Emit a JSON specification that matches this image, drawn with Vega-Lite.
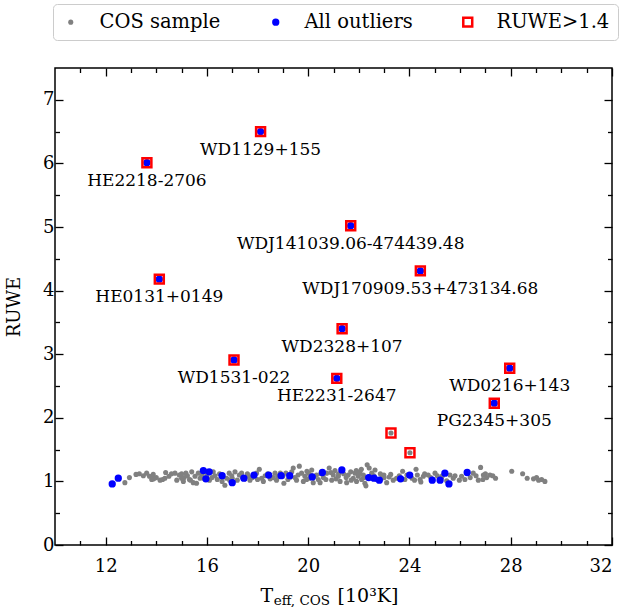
{
  "$schema": "https://vega.github.io/schema/vega-lite/v6.json",
  "width": 557,
  "height": 477,
  "autosize": {"type": "none"},
  "padding": {"left": 55, "top": 68, "right": 14, "bottom": 62},
  "background": "white",
  "datasets": {
    "pts": [
      {"teff":12.76,"ruwe":0.98,"kind":"COS sample"},{"teff":12.94,"ruwe":1.06,"kind":"COS sample"},{"teff":13.20,"ruwe":1.11,"kind":"COS sample"},{"teff":13.33,"ruwe":1.12,"kind":"COS sample"},{"teff":13.49,"ruwe":1.09,"kind":"COS sample"},{"teff":13.62,"ruwe":1.13,"kind":"COS sample"},{"teff":13.73,"ruwe":1.08,"kind":"COS sample"},{"teff":13.82,"ruwe":1.03,"kind":"COS sample"},{"teff":13.88,"ruwe":1.11,"kind":"COS sample"},{"teff":14.15,"ruwe":1.02,"kind":"COS sample"},{"teff":14.25,"ruwe":1.03,"kind":"COS sample"},{"teff":14.37,"ruwe":1.14,"kind":"COS sample"},{"teff":14.34,"ruwe":1.05,"kind":"COS sample"},{"teff":14.74,"ruwe":1.13,"kind":"COS sample"},{"teff":14.81,"ruwe":1.02,"kind":"COS sample"},{"teff":14.91,"ruwe":1.10,"kind":"COS sample"},{"teff":15.00,"ruwe":1.05,"kind":"COS sample"},{"teff":15.07,"ruwe":1.00,"kind":"COS sample"},{"teff":15.17,"ruwe":1.13,"kind":"COS sample"},{"teff":15.23,"ruwe":1.09,"kind":"COS sample"},{"teff":15.31,"ruwe":1.03,"kind":"COS sample"},{"teff":15.40,"ruwe":1.15,"kind":"COS sample"},{"teff":15.46,"ruwe":0.98,"kind":"COS sample"},{"teff":15.53,"ruwe":1.08,"kind":"COS sample"},{"teff":15.59,"ruwe":0.97,"kind":"COS sample"},{"teff":15.66,"ruwe":1.13,"kind":"COS sample"},{"teff":15.73,"ruwe":1.05,"kind":"COS sample"},{"teff":16.25,"ruwe":1.15,"kind":"COS sample"},{"teff":16.32,"ruwe":1.09,"kind":"COS sample"},{"teff":16.41,"ruwe":1.03,"kind":"COS sample"},{"teff":16.71,"ruwe":0.94,"kind":"COS sample"},{"teff":16.78,"ruwe":1.05,"kind":"COS sample"},{"teff":16.88,"ruwe":1.13,"kind":"COS sample"},{"teff":16.98,"ruwe":1.09,"kind":"COS sample"},{"teff":17.11,"ruwe":1.15,"kind":"COS sample"},{"teff":17.20,"ruwe":1.02,"kind":"COS sample"},{"teff":17.28,"ruwe":1.10,"kind":"COS sample"},{"teff":17.37,"ruwe":1.13,"kind":"COS sample"},{"teff":17.64,"ruwe":1.08,"kind":"COS sample"},{"teff":17.70,"ruwe":1.02,"kind":"COS sample"},{"teff":17.96,"ruwe":1.13,"kind":"COS sample"},{"teff":18.07,"ruwe":1.19,"kind":"COS sample"},{"teff":18.16,"ruwe":1.05,"kind":"COS sample"},{"teff":18.23,"ruwe":1.00,"kind":"COS sample"},{"teff":18.62,"ruwe":1.06,"kind":"COS sample"},{"teff":18.69,"ruwe":1.13,"kind":"COS sample"},{"teff":18.75,"ruwe":1.02,"kind":"COS sample"},{"teff":19.04,"ruwe":0.97,"kind":"COS sample"},{"teff":19.12,"ruwe":1.13,"kind":"COS sample"},{"teff":19.35,"ruwe":1.15,"kind":"COS sample"},{"teff":19.41,"ruwe":1.21,"kind":"COS sample"},{"teff":19.48,"ruwe":1.06,"kind":"COS sample"},{"teff":19.54,"ruwe":1.02,"kind":"COS sample"},{"teff":19.65,"ruwe":1.24,"kind":"COS sample"},{"teff":19.74,"ruwe":1.13,"kind":"COS sample"},{"teff":19.81,"ruwe":1.00,"kind":"COS sample"},{"teff":19.87,"ruwe":1.08,"kind":"COS sample"},{"teff":19.94,"ruwe":1.03,"kind":"COS sample"},{"teff":20.01,"ruwe":1.13,"kind":"COS sample"},{"teff":20.14,"ruwe":1.18,"kind":"COS sample"},{"teff":20.20,"ruwe":0.98,"kind":"COS sample"},{"teff":20.33,"ruwe":1.10,"kind":"COS sample"},{"teff":20.40,"ruwe":1.03,"kind":"COS sample"},{"teff":20.47,"ruwe":0.98,"kind":"COS sample"},{"teff":20.60,"ruwe":1.06,"kind":"COS sample"},{"teff":20.73,"ruwe":1.13,"kind":"COS sample"},{"teff":20.83,"ruwe":1.21,"kind":"COS sample"},{"teff":20.93,"ruwe":1.02,"kind":"COS sample"},{"teff":20.99,"ruwe":1.10,"kind":"COS sample"},{"teff":21.06,"ruwe":1.17,"kind":"COS sample"},{"teff":21.19,"ruwe":1.08,"kind":"COS sample"},{"teff":21.26,"ruwe":1.00,"kind":"COS sample"},{"teff":21.52,"ruwe":0.98,"kind":"COS sample"},{"teff":21.58,"ruwe":1.10,"kind":"COS sample"},{"teff":21.68,"ruwe":1.15,"kind":"COS sample"},{"teff":21.78,"ruwe":1.05,"kind":"COS sample"},{"teff":21.85,"ruwe":1.13,"kind":"COS sample"},{"teff":21.91,"ruwe":1.00,"kind":"COS sample"},{"teff":21.98,"ruwe":1.08,"kind":"COS sample"},{"teff":22.05,"ruwe":1.15,"kind":"COS sample"},{"teff":22.11,"ruwe":1.03,"kind":"COS sample"},{"teff":22.18,"ruwe":1.10,"kind":"COS sample"},{"teff":22.24,"ruwe":0.97,"kind":"COS sample"},{"teff":22.28,"ruwe":0.93,"kind":"COS sample"},{"teff":22.33,"ruwe":1.26,"kind":"COS sample"},{"teff":22.41,"ruwe":1.21,"kind":"COS sample"},{"teff":22.51,"ruwe":1.13,"kind":"COS sample"},{"teff":22.64,"ruwe":1.18,"kind":"COS sample"},{"teff":22.90,"ruwe":1.05,"kind":"COS sample"},{"teff":22.99,"ruwe":1.10,"kind":"COS sample"},{"teff":23.26,"ruwe":1.11,"kind":"COS sample"},{"teff":23.36,"ruwe":1.02,"kind":"COS sample"},{"teff":23.49,"ruwe":1.05,"kind":"COS sample"},{"teff":23.73,"ruwe":1.16,"kind":"COS sample"},{"teff":23.82,"ruwe":1.03,"kind":"COS sample"},{"teff":24.26,"ruwe":1.19,"kind":"COS sample"},{"teff":24.31,"ruwe":1.10,"kind":"COS sample"},{"teff":24.42,"ruwe":1.03,"kind":"COS sample"},{"teff":24.55,"ruwe":1.08,"kind":"COS sample"},{"teff":24.74,"ruwe":1.10,"kind":"COS sample"},{"teff":24.84,"ruwe":1.06,"kind":"COS sample"},{"teff":25.01,"ruwe":1.13,"kind":"COS sample"},{"teff":25.10,"ruwe":1.09,"kind":"COS sample"},{"teff":25.27,"ruwe":1.06,"kind":"COS sample"},{"teff":25.47,"ruwe":1.01,"kind":"COS sample"},{"teff":25.73,"ruwe":1.05,"kind":"COS sample"},{"teff":25.97,"ruwe":1.02,"kind":"COS sample"},{"teff":26.06,"ruwe":1.08,"kind":"COS sample"},{"teff":26.19,"ruwe":1.03,"kind":"COS sample"},{"teff":26.52,"ruwe":1.13,"kind":"COS sample"},{"teff":26.63,"ruwe":1.09,"kind":"COS sample"},{"teff":26.72,"ruwe":1.02,"kind":"COS sample"},{"teff":26.81,"ruwe":1.22,"kind":"COS sample"},{"teff":26.92,"ruwe":1.10,"kind":"COS sample"},{"teff":27.05,"ruwe":1.06,"kind":"COS sample"},{"teff":27.18,"ruwe":1.10,"kind":"COS sample"},{"teff":27.29,"ruwe":1.09,"kind":"COS sample"},{"teff":28.04,"ruwe":1.16,"kind":"COS sample"},{"teff":28.47,"ruwe":1.12,"kind":"COS sample"},{"teff":28.65,"ruwe":1.05,"kind":"COS sample"},{"teff":29.02,"ruwe":1.06,"kind":"COS sample"},{"teff":29.22,"ruwe":1.03,"kind":"COS sample"},{"teff":29.35,"ruwe":1.00,"kind":"COS sample"},
      {"teff":15.10,"ruwe":1.06,"kind":"COS sample"},{"teff":15.35,"ruwe":1.02,"kind":"COS sample"},{"teff":15.80,"ruwe":1.10,"kind":"COS sample"},{"teff":16.50,"ruwe":1.12,"kind":"COS sample"},{"teff":16.60,"ruwe":1.00,"kind":"COS sample"},{"teff":17.50,"ruwe":1.04,"kind":"COS sample"},{"teff":17.80,"ruwe":1.06,"kind":"COS sample"},{"teff":18.30,"ruwe":1.09,"kind":"COS sample"},{"teff":18.50,"ruwe":1.04,"kind":"COS sample"},{"teff":19.00,"ruwe":1.08,"kind":"COS sample"},{"teff":19.20,"ruwe":1.03,"kind":"COS sample"},{"teff":19.60,"ruwe":1.10,"kind":"COS sample"},{"teff":20.05,"ruwe":1.05,"kind":"COS sample"},{"teff":20.25,"ruwe":1.08,"kind":"COS sample"},{"teff":20.50,"ruwe":1.12,"kind":"COS sample"},{"teff":20.70,"ruwe":1.03,"kind":"COS sample"},{"teff":21.10,"ruwe":1.04,"kind":"COS sample"},{"teff":21.40,"ruwe":1.12,"kind":"COS sample"},{"teff":21.70,"ruwe":1.02,"kind":"COS sample"},{"teff":22.00,"ruwe":1.12,"kind":"COS sample"},{"teff":22.20,"ruwe":1.06,"kind":"COS sample"},{"teff":22.45,"ruwe":1.08,"kind":"COS sample"},{"teff":22.70,"ruwe":1.03,"kind":"COS sample"},{"teff":23.00,"ruwe":1.06,"kind":"COS sample"},{"teff":23.60,"ruwe":1.09,"kind":"COS sample"},{"teff":24.10,"ruwe":1.05,"kind":"COS sample"},{"teff":24.60,"ruwe":1.12,"kind":"COS sample"},{"teff":25.30,"ruwe":1.09,"kind":"COS sample"},{"teff":25.60,"ruwe":1.10,"kind":"COS sample"},{"teff":14.50,"ruwe":1.08,"kind":"COS sample"},{"teff":14.00,"ruwe":1.06,"kind":"COS sample"},{"teff":13.90,"ruwe":1.04,"kind":"COS sample"},{"teff":18.90,"ruwe":1.13,"kind":"COS sample"},{"teff":19.95,"ruwe":1.16,"kind":"COS sample"},{"teff":21.90,"ruwe":1.17,"kind":"COS sample"},{"teff":16.10,"ruwe":1.02,"kind":"COS sample"},{"teff":17.00,"ruwe":1.05,"kind":"COS sample"},{"teff":22.85,"ruwe":1.12,"kind":"COS sample"},{"teff":23.10,"ruwe":0.98,"kind":"COS sample"},{"teff":24.45,"ruwe":0.99,"kind":"COS sample"},
      {"teff":14.6,"ruwe":1.12,"kind":"COS sample"},{"teff":15.0,"ruwe":1.12,"kind":"COS sample"},{"teff":15.9,"ruwe":1.04,"kind":"COS sample"},{"teff":16.0,"ruwe":1.10,"kind":"COS sample"},{"teff":16.2,"ruwe":1.06,"kind":"COS sample"},{"teff":16.9,"ruwe":1.02,"kind":"COS sample"},{"teff":17.4,"ruwe":1.07,"kind":"COS sample"},{"teff":17.6,"ruwe":1.12,"kind":"COS sample"},{"teff":18.0,"ruwe":1.03,"kind":"COS sample"},{"teff":18.4,"ruwe":1.12,"kind":"COS sample"},{"teff":18.8,"ruwe":1.08,"kind":"COS sample"},{"teff":19.3,"ruwe":1.07,"kind":"COS sample"},{"teff":20.1,"ruwe":1.10,"kind":"COS sample"},{"teff":20.9,"ruwe":1.14,"kind":"COS sample"},{"teff":21.2,"ruwe":1.12,"kind":"COS sample"},{"teff":21.5,"ruwe":1.06,"kind":"COS sample"},{"teff":22.1,"ruwe":1.19,"kind":"COS sample"},{"teff":22.6,"ruwe":1.09,"kind":"COS sample"},{"teff":23.2,"ruwe":1.07,"kind":"COS sample"},{"teff":23.9,"ruwe":1.10,"kind":"COS sample"},{"teff":24.2,"ruwe":1.02,"kind":"COS sample"},{"teff":25.8,"ruwe":1.09,"kind":"COS sample"},{"teff":26.4,"ruwe":1.06,"kind":"COS sample"},{"teff":26.9,"ruwe":1.03,"kind":"COS sample"},{"teff":27.4,"ruwe":1.05,"kind":"COS sample"},{"teff":27.0,"ruwe":1.12,"kind":"COS sample"},{"teff":28.9,"ruwe":1.04,"kind":"COS sample"},{"teff":29.1,"ruwe":1.02,"kind":"COS sample"},
      {"teff":23.27,"ruwe":1.76,"kind":"COS sample"},{"teff":24.02,"ruwe":1.45,"kind":"COS sample"},
      {"teff":12.26,"ruwe":0.96,"kind":"All outliers"},{"teff":12.50,"ruwe":1.05,"kind":"All outliers"},{"teff":15.86,"ruwe":1.17,"kind":"All outliers"},{"teff":16.09,"ruwe":1.15,"kind":"All outliers"},{"teff":15.96,"ruwe":1.04,"kind":"All outliers"},{"teff":16.60,"ruwe":1.09,"kind":"All outliers"},{"teff":17.00,"ruwe":0.98,"kind":"All outliers"},{"teff":17.46,"ruwe":1.05,"kind":"All outliers"},{"teff":17.86,"ruwe":1.10,"kind":"All outliers"},{"teff":18.44,"ruwe":1.10,"kind":"All outliers"},{"teff":18.93,"ruwe":1.09,"kind":"All outliers"},{"teff":19.27,"ruwe":1.09,"kind":"All outliers"},{"teff":20.16,"ruwe":1.07,"kind":"All outliers"},{"teff":20.56,"ruwe":1.14,"kind":"All outliers"},{"teff":21.33,"ruwe":1.18,"kind":"All outliers"},{"teff":22.39,"ruwe":1.06,"kind":"All outliers"},{"teff":22.60,"ruwe":1.05,"kind":"All outliers"},{"teff":22.81,"ruwe":1.02,"kind":"All outliers"},{"teff":23.65,"ruwe":1.04,"kind":"All outliers"},{"teff":24.01,"ruwe":1.10,"kind":"All outliers"},{"teff":24.90,"ruwe":1.02,"kind":"All outliers"},{"teff":25.21,"ruwe":1.02,"kind":"All outliers"},{"teff":25.40,"ruwe":1.13,"kind":"All outliers"},{"teff":25.56,"ruwe":0.96,"kind":"All outliers"},{"teff":26.28,"ruwe":1.14,"kind":"All outliers"},
      {"teff":13.63,"ruwe":6.01,"kind":"All outliers"},{"teff":18.12,"ruwe":6.50,"kind":"All outliers"},{"teff":21.68,"ruwe":5.02,"kind":"All outliers"},{"teff":24.43,"ruwe":4.31,"kind":"All outliers"},{"teff":14.12,"ruwe":4.18,"kind":"All outliers"},{"teff":21.34,"ruwe":3.40,"kind":"All outliers"},{"teff":17.07,"ruwe":2.91,"kind":"All outliers"},{"teff":21.13,"ruwe":2.62,"kind":"All outliers"},{"teff":27.96,"ruwe":2.78,"kind":"All outliers"},{"teff":27.35,"ruwe":2.23,"kind":"All outliers"},
      {"teff":13.63,"ruwe":6.01,"kind":"RUWE>1.4","name":"HE2218-2706"},{"teff":18.12,"ruwe":6.50,"kind":"RUWE>1.4","name":"WD1129+155"},{"teff":21.68,"ruwe":5.02,"kind":"RUWE>1.4","name":"WDJ141039.06-474439.48"},{"teff":24.43,"ruwe":4.31,"kind":"RUWE>1.4","name":"WDJ170909.53+473134.68"},{"teff":14.12,"ruwe":4.18,"kind":"RUWE>1.4","name":"HE0131+0149"},{"teff":21.34,"ruwe":3.40,"kind":"RUWE>1.4","name":"WD2328+107"},{"teff":17.07,"ruwe":2.91,"kind":"RUWE>1.4","name":"WD1531-022"},{"teff":21.13,"ruwe":2.62,"kind":"RUWE>1.4","name":"HE2231-2647"},{"teff":27.96,"ruwe":2.78,"kind":"RUWE>1.4","name":"WD0216+143"},{"teff":27.35,"ruwe":2.23,"kind":"RUWE>1.4","name":"PG2345+305"},
      {"teff":23.27,"ruwe":1.76,"kind":"RUWE>1.4"},{"teff":24.02,"ruwe":1.45,"kind":"RUWE>1.4"}
    ]
  },
  "data": {"name": "pts"},
  "layer": [
    {
      "mark": {"type": "point", "filled": true, "strokeWidth": 2.5, "opacity": 1, "fillOpacity": 1, "strokeOpacity": 1},
      "encoding": {
        "x": {"field": "teff", "type": "quantitative", "scale": {"domain": [10, 32], "nice": false, "zero": false},
          "axis": {"orient": "bottom", "values": [12, 16, 20, 24, 28, 32], "tickSize": -8, "labelPadding": 20, "title": null}},
        "y": {"field": "ruwe", "type": "quantitative", "scale": {"domain": [0, 7.5], "nice": false, "zero": false},
          "axis": {"orient": "left", "values": [0, 1, 2, 3, 4, 5, 6, 7], "tickSize": -8, "labelPadding": 9, "title": "RUWE", "titlePadding": 19}},
        "shape": {"field": "kind", "type": "nominal", "scale": {"domain": ["COS sample", "All outliers", "RUWE>1.4"], "range": ["circle", "circle", "square"]},
          "legend": {"title": null, "orient": "none", "legendX": -2, "legendY": -64, "direction": "horizontal", "labelFont": "DejaVu Serif", "labelFontSize": 19.5}},
        "size": {"field": "kind", "type": "nominal", "scale": {"domain": ["COS sample", "All outliers", "RUWE>1.4"], "range": [26, 80, 250]},
          "legend": {"title": null, "orient": "none", "legendX": -2, "legendY": -64, "direction": "horizontal", "labelFont": "DejaVu Serif", "labelFontSize": 19.5}},
        "fill": {"field": "kind", "type": "nominal", "scale": {"domain": ["COS sample", "All outliers", "RUWE>1.4"], "range": ["#808080", "#0000ff", "transparent"]},
          "legend": {"title": null, "orient": "none", "legendX": -2, "legendY": -64, "direction": "horizontal", "labelFont": "DejaVu Serif", "labelFontSize": 19.5}},
        "stroke": {"field": "kind", "type": "nominal", "scale": {"domain": ["COS sample", "All outliers", "RUWE>1.4"], "range": ["transparent", "transparent", "#ff0000"]},
          "legend": {"title": null, "orient": "none", "legendX": -2, "legendY": -64, "direction": "horizontal", "labelFont": "DejaVu Serif", "labelFontSize": 19.5}}
      }
    },
    {
      "transform": [{"filter": "isValid(datum.name)"}],
      "mark": {"type": "text", "dy": 18, "align": "center", "baseline": "middle", "fontSize": 17, "font": "DejaVu Serif", "color": "black"},
      "encoding": {
        "x": {"field": "teff", "type": "quantitative", "scale": {"domain": [10, 32], "nice": false, "zero": false},
          "axis": {"orient": "bottom", "values": [11, 13, 14, 15, 17, 18, 19, 21, 22, 23, 25, 26, 27, 29, 30, 31], "tickSize": -4.5, "labels": false, "title": null}},
        "y": {"field": "ruwe", "type": "quantitative", "scale": {"domain": [0, 7.5], "nice": false, "zero": false},
          "axis": {"orient": "left", "values": [0.5, 1.5, 2.5, 3.5, 4.5, 5.5, 6.5], "tickSize": -4.5, "labels": false, "title": null}},
        "text": {"field": "name"}
      }
    },
    {
      "data": {"values": [{}]},
      "mark": {"type": "text", "text": "T", "align": "left", "baseline": "alphabetic", "fontSize": 19, "font": "DejaVu Serif", "color": "black"},
      "encoding": {
        "x": {"datum": 18.12, "type": "quantitative", "scale": {"domain": [10, 32], "nice": false, "zero": false},
          "axis": {"orient": "top", "values": [12, 16, 20, 24, 28, 32], "tickSize": -8, "labels": false, "title": null}},
        "y": {"datum": -0.9, "type": "quantitative", "scale": {"domain": [0, 7.5], "nice": false, "zero": false},
          "axis": {"orient": "right", "values": [0, 1, 2, 3, 4, 5, 6, 7], "tickSize": -8, "labels": false, "title": null}}
      }
    },
    {
      "data": {"values": [{}]},
      "mark": {"type": "text", "text": "eff, COS", "align": "left", "baseline": "alphabetic", "fontSize": 13.5, "font": "DejaVu Serif", "color": "black"},
      "encoding": {
        "x": {"datum": 18.64, "type": "quantitative", "scale": {"domain": [10, 32], "nice": false, "zero": false},
          "axis": {"orient": "top", "values": [11, 13, 14, 15, 17, 18, 19, 21, 22, 23, 25, 26, 27, 29, 30, 31], "tickSize": -4.5, "labels": false, "title": null}},
        "y": {"datum": -0.95, "type": "quantitative", "scale": {"domain": [0, 7.5], "nice": false, "zero": false},
          "axis": {"orient": "right", "values": [0.5, 1.5, 2.5, 3.5, 4.5, 5.5, 6.5], "tickSize": -4.5, "labels": false, "title": null}}
      }
    },
    {
      "data": {"values": [{}]},
      "mark": {"type": "text", "text": "[10³K]", "align": "left", "baseline": "alphabetic", "fontSize": 19, "font": "DejaVu Serif", "color": "black"},
      "encoding": {
        "x": {"datum": 21.16, "type": "quantitative", "scale": {"domain": [10, 32], "nice": false, "zero": false}, "axis": null},
        "y": {"datum": -0.9, "type": "quantitative", "scale": {"domain": [0, 7.5], "nice": false, "zero": false}, "axis": null}
      }
    }
  ],
  "resolve": {"axis": {"x": "independent", "y": "independent"}},
  "config": {
    "font": "DejaVu Serif",
    "style": {"guide-label": {"font": "DejaVu Serif", "fill": "black"}, "guide-title": {"font": "DejaVu Serif", "fill": "black"}},
    "view": {"stroke": "black", "strokeWidth": 1.5},
    "axis": {"domain": false, "grid": false, "tickColor": "black", "tickWidth": 1.3, "labelFont": "DejaVu Serif", "labelFontSize": 18, "labelColor": "black",
      "titleFont": "DejaVu Serif", "titleFontSize": 18, "titleFontWeight": "normal", "titleColor": "black"},
    "legend": {"labelFont": "DejaVu Serif", "labelFontSize": 19.5, "labelColor": "black", "padding": 8, "strokeColor": "#cccccc", "cornerRadius": 4,
      "fillColor": "white", "columnPadding": 45, "labelOffset": 19, "symbolStrokeWidth": 2.5}
  }
}
